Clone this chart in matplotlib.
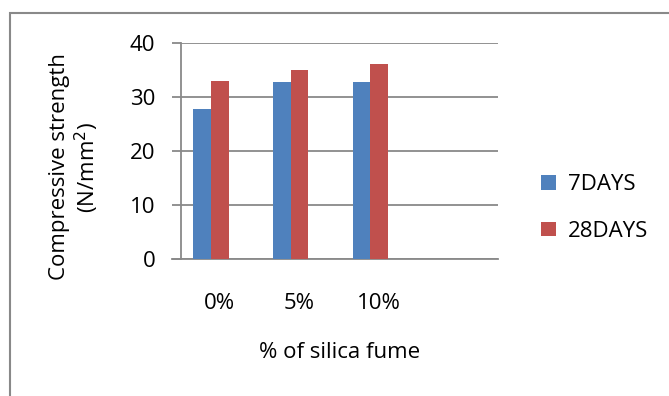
import matplotlib
matplotlib.use("Agg")
import matplotlib.pyplot as plt
import numpy as np
from matplotlib.patches import Rectangle

categories = ["0%", "5%", "10%"]
days7 = [27.7, 32.8, 32.7]
days28 = [32.9, 34.9, 36.0]
series_names = ["7DAYS", "28DAYS"]

W, H = 669, 396
DPI = 100
FS = 16
GRID = "#898989"

plt.rcParams["font.family"] = ["Open Sans", "DejaVu Sans"]

fig = plt.figure(figsize=(W / DPI, H / DPI), dpi=DPI)
ax = fig.add_axes([180.7 / W, 1 - 258.7 / H, (498 - 180.7) / W, (258.7 - 42.7) / H])

x = np.arange(len(categories))
bw = 0.222
ax.bar(x - bw / 2, days7, bw, color="#4F81BD", label=series_names[0], zorder=3)
ax.bar(x + bw / 2, days28, bw, color="#C0504D", label=series_names[1], zorder=3)

ax.set_xlim(-0.38, 3.6)
ax.set_ylim(0, 40)
ax.set_yticks([0, 10, 20, 30, 40])
ax.yaxis.grid(True, color=GRID, linewidth=1.3, zorder=0)
ax.set_axisbelow(True)

for s in ("top", "right"):
    ax.spines[s].set_visible(False)
ax.spines["left"].set_color(GRID)
ax.spines["left"].set_linewidth(1.3)
ax.spines["bottom"].set_color(GRID)
ax.spines["bottom"].set_linewidth(1.3)
ax.spines["bottom"].set_bounds(-0.38 - 8.7 / 79.7, 3.6)
ax.spines["bottom"].set_clip_on(False)

ax.tick_params(axis="y", length=6.3, width=1.3, color=GRID, direction="out",
               pad=12, labelsize=FS)
ax.set_xticks(x + 0.1)
ax.set_xticklabels(categories)
ax.tick_params(axis="x", length=0, pad=25, labelsize=FS)

ax.set_xlabel("% of silica fume", fontsize=FS, labelpad=20)

fig.text(75 / W, 1 - 167 / H, "Compressive strength\n(N/mm$^2$)", rotation=90,
         ha="center", va="center", multialignment="center", fontsize=FS,
         linespacing=1.15)

ax.legend(loc="center left", bbox_to_anchor=(530 / W, 1 - 208 / H),
          bbox_transform=fig.transFigure, frameon=False, fontsize=FS,
          handlelength=0.65, handleheight=0.65, handletextpad=0.55,
          labelspacing=1.15, borderpad=0)

fig.patches.append(Rectangle((10 / W, -0.1), 1.2, 1.1 - 13 / H,
                             transform=fig.transFigure, fill=False,
                             edgecolor=GRID, linewidth=1.5))

fig.savefig("out.png", dpi=DPI)
